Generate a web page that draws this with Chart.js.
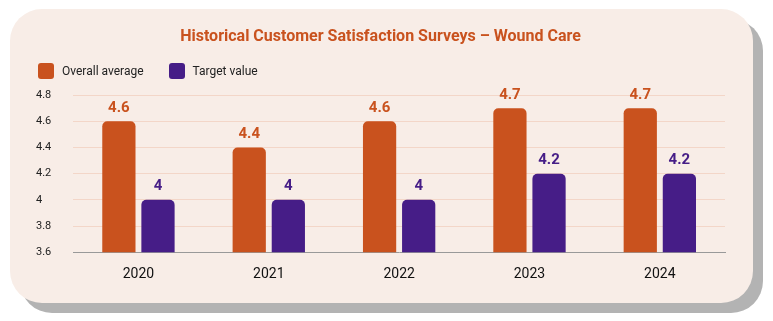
<!DOCTYPE html>
<html>
<head>
<meta charset="utf-8">
<script src="https://cdn.jsdelivr.net/npm/chart.js@4.4.1/dist/chart.umd.min.js"></script>
<style>
  html, body { margin: 0; padding: 0; background: #fff; }
  body { width: 773px; height: 321px; position: relative; overflow: hidden; font-family: Roboto, sans-serif; }
  .card {
    position: absolute; left: 10px; top: 9px; width: 743px; height: 294px;
    background: #f8ede7; border-radius: 32px;
    box-shadow: 10px 10px 0 #b3b3b3;
  }
  .card canvas { position: absolute; left: 0; top: 0; }
  .legend { position: absolute; left: 28px; top: 54px; height: 16px; display: flex; align-items: center; font-size: 12px; color: #222; }
  .legend .item { display: flex; align-items: center; }
  .legend .sw { width: 16px; height: 16px; border-radius: 3px; margin-right: 8px; }
  .legend .item + .item { margin-left: 25px; }
</style>
</head>
<body>
<div class="card">
  <canvas id="c" width="743" height="294"></canvas>
  <div class="legend" id="legend"></div>
</div>
<script>
// === данные ===
const years = ['2020', '2021', '2022', '2023', '2024'];
const overallAvg = [4.6, 4.4, 4.6, 4.7, 4.7];
const targetVal = [4, 4, 4, 4.2, 4.2];
const yTicks = [3.6, 3.8, 4, 4.2, 4.4, 4.6, 4.8];

const ORANGE = '#c9521e';
const PURPLE = '#461d87';

// подписи над столбиками
const barLabels = {
  id: 'barLabels',
  afterDatasetsDraw(chart){
    const ctx = chart.ctx;
    ctx.save();
    ctx.font = 'bold 15px Roboto';
    ctx.textAlign = 'center';
    ctx.textBaseline = 'bottom';
    chart.data.datasets.forEach((ds, i) => {
      ctx.fillStyle = ds.backgroundColor;
      chart.getDatasetMeta(i).data.forEach((bar, j) => {
        ctx.fillText(String(ds.data[j]), bar.x, bar.y - 6);
      });
    });
    ctx.restore();
  }
};

const chart = new Chart(document.getElementById('c'), {
  type: 'bar',
  data: {
    labels: years,
    datasets: [
      { label: 'Overall average', data: overallAvg, backgroundColor: ORANGE,
        borderRadius: { topLeft: 5, topRight: 5 }, borderSkipped: 'bottom' },
      { label: 'Target value', data: targetVal, backgroundColor: PURPLE,
        borderRadius: { topLeft: 5, topRight: 5 }, borderSkipped: 'bottom' }
    ]
  },
  options: {
    responsive: false,
    animation: false,
    categoryPercentage: 0.6,
    barPercentage: 0.85,
    layout: { padding: { left: 26, right: 28, top: 14, bottom: 14 } },
    plugins: {
      title: {
        display: true,
        text: 'Historical Customer Satisfaction Surveys – Wound Care',
        color: ORANGE,
        font: { family: 'Roboto', size: 16, weight: 'bold' },
        padding: { top: 4, bottom: 49 }
      },
      legend: { display: false },
      tooltip: { enabled: false }
    },
    scales: {
      x: {
        grid: { display: false },
        border: { color: '#999', width: 1 },
        ticks: { color: '#111', font: { family: 'Roboto', size: 14 }, padding: 6 }
      },
      y: {
        min: 3.6, max: 4.8,
        afterBuildTicks(axis){ axis.ticks = yTicks.map(v => ({ value: v })); },
        grid: {
          color: ctx => ctx.index === 0 ? 'rgba(0,0,0,0)' : '#f3d6c8',
          drawTicks: false
        },
        border: { display: false },
        ticks: {
          color: '#222', font: { family: 'Roboto', size: 11 },
          crossAlign: 'far', padding: 11,
          callback: v => String(v)
        }
      }
    }
  },
  plugins: [barLabels]
});

// легенда в HTML
document.getElementById('legend').innerHTML = chart.data.datasets.map(ds =>
  `<div class="item"><span class="sw" style="background:${ds.backgroundColor}"></span>${ds.label}</div>`
).join('');
</script>
</body>
</html>
